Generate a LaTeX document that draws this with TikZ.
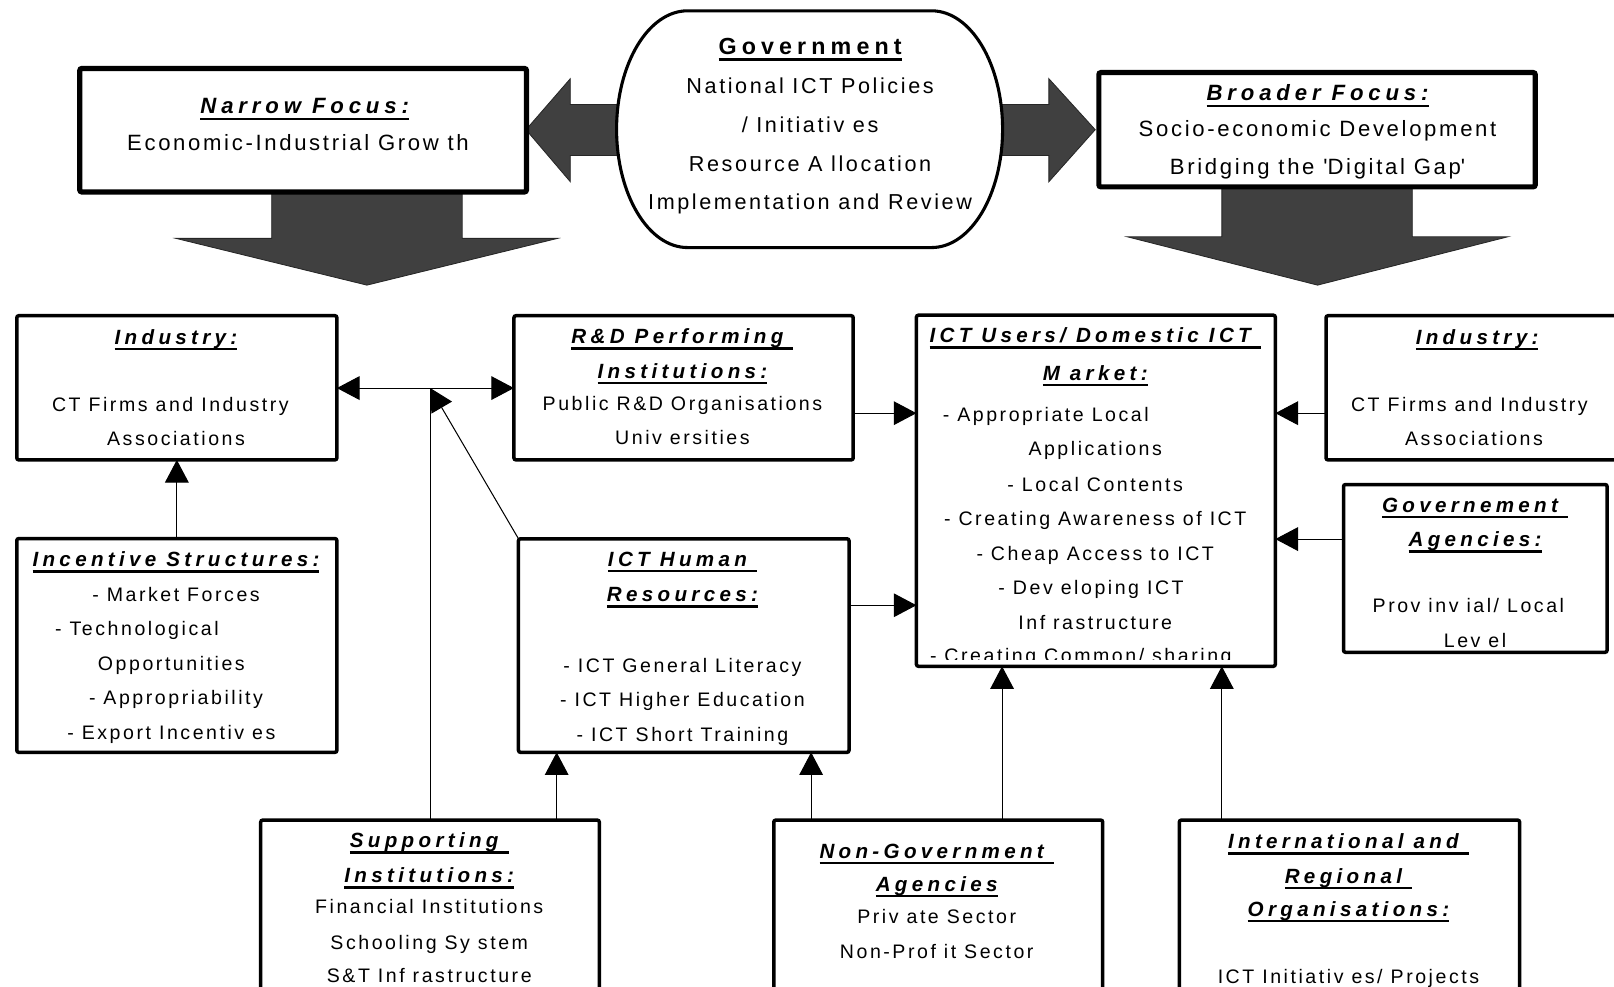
\documentclass[tikz,border=0pt]{standalone}
\usepackage{fontspec}
\setmainfont{Liberation Sans}
\newfontfamily\bodyfam[LetterSpace=13]{Liberation Sans}
\newfontfamily\headfam[LetterSpace=21]{Liberation Sans}
\newfontfamily\topfam[LetterSpace=12]{Liberation Sans}
\newfontfamily\topheadfam[LetterSpace=22]{Liberation Sans}
\usetikzlibrary{arrows.meta,fit}

% underlined headings
\newcommand\ulbox[1]{\setbox0=\hbox{#1}\rlap{\rule[-3pt]{\wd0}{1.2pt}}\box0}
\newcommand\hd[1]{\ulbox{\headfam\fontsize{10}{16.75}\selectfont\bfseries\itshape #1}}
\newcommand\tophd[1]{\ulbox{\topheadfam\bfseries\itshape #1}}
\newcommand\govhd[1]{\ulbox{\topheadfam\fontsize{11.3}{18.8}\selectfont\bfseries #1}}
% move one centred line sideways without changing its width
\newcommand\shl[2]{\mbox{\hspace*{#1}#2\hspace*{-#1}}}

\tikzset{
  frame/.style={draw=black, line width=1.7pt, fill=white, rounded corners=1pt,
    inner sep=0pt, outer sep=0pt},
  thickframe/.style={frame, line width=2.5pt},
  txt/.style={align=center, inner sep=0pt, anchor=north, yshift=6.5pt,
    execute at begin node={\rule{0pt}{10pt}},
    font=\bodyfam\fontsize{9.5}{16.75}\selectfont},
  toptxt/.style={txt, font=\topfam\fontsize{10.75}{16.75}\selectfont},
  govtxt/.style={txt, font=\topfam\fontsize{10.5}{18.8}\selectfont},
  conn/.style={draw=black, line width=0.5pt},
  bigarrow/.style={fill=black!75, draw=black!85, line width=0.4pt},
}

\begin{document}
\begin{tikzpicture}[x=0.5pt, y=-0.5pt, >={Triangle[length=11pt,width=11.5pt]}]
\useasboundingbox (0,0) rectangle (1568,958);

% ---- broad block arrows ----
\filldraw[bigarrow] (511,126) -- (554,76.5) -- (554,101.5) -- (604,101.5) -- (604,151)
  -- (554,151) -- (554,176.5) -- cycle;
\filldraw[bigarrow] (970,101.5) -- (1019,101.5) -- (1019,76.5) -- (1064,126)
  -- (1019,176.5) -- (1019,151) -- (970,151) -- cycle;
\filldraw[bigarrow] (264,180) -- (449,180) -- (449,231.6) -- (541.6,231.6) -- (356.5,277)
  -- (171,231.6) -- (264,231.6) -- cycle;
\filldraw[bigarrow] (1187,178) -- (1372,178) -- (1372,230) -- (1465,230) -- (1280,277)
  -- (1095,230) -- (1187,230) -- cycle;

% ---- government (rounded capsule) ----
\draw[line width=1.5pt, fill=white] (668,10.5) -- (905,10.5)
  arc[start angle=90, end angle=-90, x radius=34.5pt, y radius=57.5pt]
  -- (668,240.5)
  arc[start angle=270, end angle=90, x radius=34.5pt, y radius=57.5pt] -- cycle;

% ---- box corners ----
\coordinate (nf1) at (77.5,66.5);    \coordinate (nf2) at (511.5,186.5);
\coordinate (bf1) at (1067.5,70.5);  \coordinate (bf2) at (1491.5,181.5);
\coordinate (il1) at (16.3,306.7);   \coordinate (il2) at (327.3,446.8);
\coordinate (rd1) at (499.3,306.7);  \coordinate (rd2) at (828.9,446.8);
\coordinate (us1) at (890.3,306.2);  \coordinate (us2) at (1239,647.3);
\coordinate (ir1) at (1288.2,306.7); \coordinate (ir2) at (1620,446.8);
\coordinate (ga1) at (1305.2,470.7); \coordinate (ga2) at (1561.3,633.7);
\coordinate (is1) at (16.3,523.2);   \coordinate (is2) at (327.3,730.9);
\coordinate (hr1) at (503.7,523.4);  \coordinate (hr2) at (824.8,730.9);
\coordinate (sp1) at (253.3,796.7);  \coordinate (sp2) at (582.2,1000);
\coordinate (ng1) at (751.7,796.7);  \coordinate (ng2) at (1071.3,1000);
\coordinate (in1) at (1145.7,796.7); \coordinate (in2) at (1476.3,1000);

\node[thickframe, fit=(nf1)(nf2)] (narrow) {};
\node[thickframe, fit=(bf1)(bf2)] (broader) {};
\node[frame, fit=(il1)(il2)] (indL) {};
\node[frame, fit=(rd1)(rd2)] (rd) {};
\node[frame, fit=(us1)(us2)] (users) {};
\node[frame, fit=(ir1)(ir2)] (indR) {};
\node[frame, fit=(ga1)(ga2)] (govag) {};
\node[frame, fit=(is1)(is2)] (incent) {};
\node[frame, fit=(hr1)(hr2)] (hr) {};
\node[frame, fit=(sp1)(sp2)] (supp) {};
\node[frame, fit=(ng1)(ng2)] (ngo) {};
\node[frame, fit=(in1)(in2)] (intl) {};

% ---- connectors ----
\coordinate (jn) at (418,377);
\coordinate (r1) at (0,401.4);
\coordinate (r2) at (0,588);
\coordinate (r3) at (0,523.7);
\coordinate (c1) at (540.8,0);
\coordinate (c2) at (788,0);
\coordinate (c3) at (973.5,0);
\coordinate (c4) at (1187,0);

\draw[conn,->] (incent.north) -- (indL.south);
\draw[conn,<->] (indL.east |- jn) -- (rd.west |- jn);
\draw[conn] (supp.north -| jn) -- (jn);
\draw[conn,->] (hr.north west) -- (jn);
\draw[conn,->] (rd.east |- r1) -- (users.west |- r1);
\draw[conn,->] (hr.east |- r2) -- (users.west |- r2);
\draw[conn,->] (indR.west |- r1) -- (users.east |- r1);
\draw[conn,->] (govag.west |- r3) -- (users.east |- r3);
\draw[conn,->] (supp.north -| c1) -- (hr.south -| c1);
\draw[conn,->] (ngo.north -| c2) -- (hr.south -| c2);
\draw[conn,->] (ngo.north -| c3) -- (users.south -| c3);
\draw[conn,->] (intl.north -| c4) -- (users.south -| c4);

% ---- texts ----
\node[govtxt] (govt) at (787,50) {\govhd{Government}\\[0.2pt]
  National ICT Policies\\ / Initiativ es\\ Resource A llocation\\
  Implementation and Review};

\node[toptxt] (narrowt) at (292,108.5) {\shl{2pt}{\tophd{Narrow Focus:}}\\[1pt]
  \shl{-1.25pt}{Economic-Industrial Grow th}};

\node[toptxt] (broadert) at (1280,95) {\tophd{Broader Focus:}\\[0.5pt]
  Socio-economic Development\\[2pt]
  Bridging the \textquotesingle Digital Gap\textquotesingle};

\node[txt] (indLt) at (171,332.6) {\hd{Industry:}\\[15.75pt]
  \shl{-2.75pt}{CT Firms and Industry}\\ Associations};

\node[txt] (rdt) at (663,332) {\hd{R\&D Performing\ }\\ \hd{Institutions:}\\[-1pt]
  Public R\&D Organisations\\[-0.5pt] Univ ersities};

\begin{scope}
  \clip (890,306) rectangle (1239,641);
  \node[txt] (userst) at (1064,331) {\hd{ICT Users/ Domestic ICT\ }\\[1.5pt]
    \hd{M arket:}\\[3.5pt]
    \shl{-24pt}{- Appropriate Local}\\[-0.5pt]
    Applications\\[0.75pt]
    - Local Contents\\
    - Creating Awareness of ICT\\
    - Cheap Access to ICT\\
    \shl{-2pt}{- Dev eloping ICT}\\
    Inf rastructure\\[-0.5pt]
    \shl{-7pt}{- Creating Common/ sharing}};
\end{scope}

\node[txt] (indRt) at (1432,332.6) {\shl{1.5pt}{\hd{Industry:}}\\[15.75pt]
  \shl{-2.25pt}{CT Firms and Industry}\\ Associations};

\node[txt] (govagt) at (1433,496.3) {\hd{Governement\ }\\ \hd{Agencies:}\\[15.25pt]
  \shl{-3.25pt}{Prov inv ial/ Local}\\ Lev el};

\node[txt] (incentt) at (171,548.6) {\hd{Incentive Structures:}\\
  - Market Forces\\ \shl{-19pt}{- Technological}\\ \shl{-2.25pt}{Opportunities}\\
  - Appropriability\\ \shl{-2.25pt}{- Export Incentiv es}};

\node[txt] (hrt) at (663,548.6) {\hd{ICT Human\ }\\[0.5pt] \hd{Resources:}\\[17.6pt]
  - ICT General Literacy\\ - ICT Higher Education\\ - ICT Short Training};

\node[txt] (suppt) at (417,821.5) {\hd{Supporting\ }\\[0.25pt] \hd{Institutions:}\\[-1.5pt]
  Financial Institutions\\[0.75pt] Schooling Sy stem\\[-0.75pt] S\&T Inf rastructure};

\node[txt] (ngot) at (910,832.4) {\hd{Non-Government\ }\\[-0.75pt] \hd{Agencies}\\[-1.25pt]
  Priv ate Sector\\[0.25pt] Non-Prof it Sector};

\node[txt] (intlt) at (1310,822.6) {\hd{International and\ }\\ \hd{Regional\ }\\[-0.75pt]
  \hd{Organisations:}\\[15.75pt] ICT Initiativ es/ Projects};

\end{tikzpicture}
\end{document}
